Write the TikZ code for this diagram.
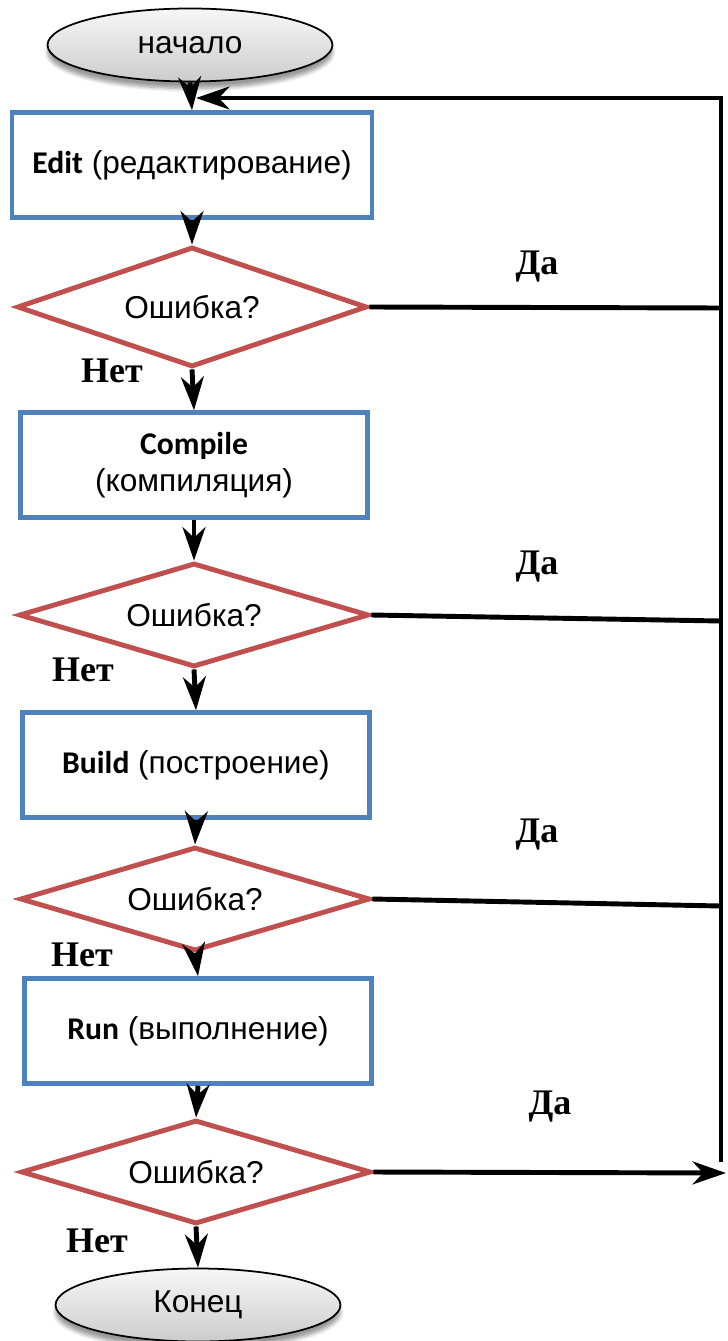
\documentclass[tikz,border=0pt]{standalone}
\usepackage{fontspec}
\setmainfont{Liberation Sans}
\newfontfamily\calfont{Carlito}
\newfontfamily\timesfont{Liberation Serif}
\usetikzlibrary{shapes.geometric,arrows.meta,shadows.blur}
\definecolor{boxblue}{RGB}{79,129,189}
\definecolor{diared}{RGB}{192,80,77}
\begin{document}
\begin{tikzpicture}[x=0.02cm,y=-0.02cm,>={Stealth[length=19pt,width=13pt,inset=6pt]},
  flow/.style={line width=2.8pt},
  terminal/.style={ellipse,draw,line width=1pt,top color=gray!6,bottom color=gray!40,
    minimum width=5.7cm,minimum height=1.46cm,font=\fontsize{18}{21}\selectfont,
    blur shadow={shadow xshift=0pt,shadow yshift=-4pt,shadow blur steps=6}},
  process/.style={rectangle,draw=boxblue,line width=2.6pt,minimum width=6.95cm,
    minimum height=2.1cm,align=center,font=\fontsize{18}{21}\selectfont},
  decision/.style={diamond,draw=diared,line width=2.8pt,aspect=3.4,inner sep=0pt,
    minimum width=7cm,minimum height=2.08cm,font=\fontsize{18}{21}\selectfont},
  answer/.style={font=\timesfont\bfseries\fontsize{20.5}{24}\selectfont}]
\useasboundingbox (0,0) rectangle (727,1341);

\node[terminal] (start) at (190,45) {начало};
\node[process, minimum width=7.2cm] (edit) at (192,165) {{\calfont\bfseries Edit} (редактирование)};
\node[decision, minimum height=2.4cm] (err1) at (192,307) {Ошибка?};
\node[process] (compile) at (194,465) {{\calfont\bfseries Compile}\\(компиляция)};
\node[decision] (err2) at (194,615) {Ошибка?};
\node[process] (build) at (196,765) {{\calfont\bfseries Build} (построение)};
\node[decision] (err3) at (195,899) {Ошибка?};
\node[process] (run) at (198,1031) {{\calfont\bfseries Run} (выполнение)};
\node[decision] (err4) at (196,1172) {Ошибка?};
\node[terminal] (finish) at (198,1305) {Конец};

\node[answer] (no1) at (112,371) {Нет};
\node[answer] (no2) at (83,670) {Нет};
\node[answer] (no3) at (82,955) {Нет};
\node[answer] (no4) at (97,1241) {Нет};
\node[answer] (yes1) at (537,267) {Да};
\node[answer] (yes2) at (537,567) {Да};
\node[answer] (yes3) at (537,835) {Да};
\node[answer] (yes4) at (550,1107) {Да};

\draw[flow,->] (start.south) -- (edit.north);
\draw[flow,->] (edit.south) -- (err1.north);
\draw[flow,->] (err1.south) -- (compile.north);
\draw[flow,->] (compile.south) -- (err2.north);
\draw[flow,->] (err2.south) -- (build.north);
\draw[flow,->] (build.south) -- (err3.north);
\draw[flow,->] (err3.south) -- (run.north);
\draw[flow,->] (run.south) -- (err4.north);
\draw[flow,->] (err4.south) -- (finish.north);

\coordinate (back1) at (721,308);
\coordinate (back2) at (721,621);
\coordinate (back3) at (721,906);
\coordinate (back4) at (726,1173);
\coordinate (bottom) at (721,1162);
\coordinate (corner) at (721,98);
\coordinate (entry) at (196,98);
\draw[flow] (err1.east) -- (back1);
\draw[flow] (err2.east) -- (back2);
\draw[flow] (err3.east) -- (back3);
\draw[flow,->] (err4.east) -- (back4);
\draw[flow,->] (bottom) -- (corner) -- (entry);
\end{tikzpicture}
\end{document}
